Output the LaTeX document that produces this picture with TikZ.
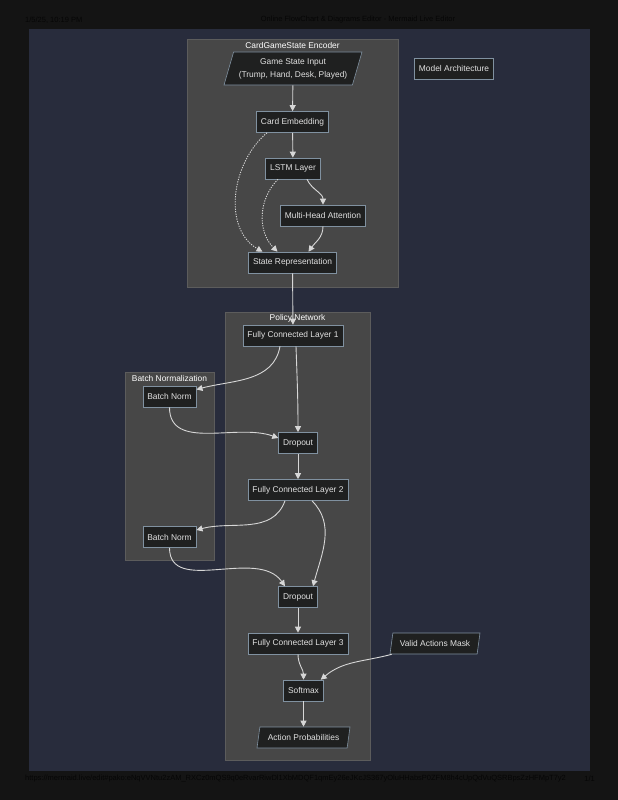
\documentclass[tikz,border=0pt]{standalone}
\usepackage{fontspec}
\setmainfont{Liberation Sans}
\usetikzlibrary{arrows.meta,shapes.geometric}
\definecolor{pagebg}{RGB}{20,20,20}
\definecolor{panelbg}{RGB}{40,44,60}
\definecolor{groupbg}{RGB}{71,71,71}
\definecolor{groupline}{RGB}{92,92,92}
\definecolor{nodebg}{RGB}{31,32,32}
\definecolor{nodeline}{RGB}{128,145,160}
\definecolor{edgecol}{RGB}{215,215,215}
\definecolor{textcol}{RGB}{225,225,225}
\definecolor{printcol}{RGB}{6,6,6}

\begin{document}
\begin{tikzpicture}[x=1pt,y=-1pt,
        box/.style={draw=nodeline,fill=nodebg,text=textcol,line width=0.6pt,inner xsep=4.5pt,inner ysep=0pt,minimum height=21pt,font=\fontsize{8.4}{13}\selectfont},
        slant/.style={box,trapezium,trapezium left angle=65,trapezium right angle=115,trapezium stretches body,align=center},
        group/.style={draw=groupline,fill=groupbg,line width=0.6pt},
        grouptitle/.style={text=white,inner sep=0pt,font=\fontsize{8.4}{10}\selectfont},
        print/.style={text=printcol,inner sep=0pt,font=\fontsize{7.5}{9}\selectfont},
        edge/.style={draw=edgecol,line width=0.9pt,-{Triangle[length=6pt,width=6pt]}},
        skip/.style={edge,dash pattern=on 1.2pt off 1.3pt}]
        \useasboundingbox (0,0) rectangle (618,800);
        \fill[pagebg] (0,0) rectangle (618,800);
        \fill[panelbg] (29,29) rectangle (590,771);
        \node[print,anchor=west] (stamp) at (25,20) {1/5/25, 10:19 PM};
        \node[print] (title) at (358,20) {Online FlowChart \& Diagrams Editor - Mermaid Live Editor};
        \node[print,anchor=west] (url) at (25,779) {https://mermaid.live/edit\#pako:eNqVVNtu2zAM\_RXCz0mQS9q0eRvarRiwDl1XbMDQF1qmEy26eJKcJS367yOluHHabsP0ZFM8h4cUpQdVuQSRBpsZzHFMpT7y2};
        \node[print,anchor=east] (pageno) at (595,779) {1/1};

        \draw[group] (187,39) rectangle (398,287);
        \draw[group] (225,312) rectangle (370,760);
        \draw[group] (125,372) rectangle (214,560);
        \node[grouptitle] (enctitle) at (292.5,45) {CardGameState Encoder};
        \node[grouptitle] (poltitle) at (297.5,318) {Policy Network};
        \node[grouptitle] (bntitle) at (169.5,378.5) {Batch Normalization};

        \node[slant,minimum width=138pt,minimum height=33pt] (gsi) at (293,68.5) {Game State Input\\(Trump, Hand, Desk, Played)};
        \node[box] (emb) at (292.5,122) {Card Embedding};
        \node[box] (lstm) at (293,168.5) {LSTM Layer};
        \node[box] (mha) at (323,215.5) {Multi-Head Attention};
        \node[box] (state) at (292.5,262.5) {State Representation};
        \node[box] (model) at (454,68.5) {Model Architecture};
        \node[box] (fc1) at (293,335.5) {Fully Connected Layer 1};
        \node[box] (bn1) at (169.5,396.5) {Batch Norm};
        \node[box] (drop1) at (298,443) {Dropout};
        \node[box] (fc2) at (298,490) {Fully Connected Layer 2};
        \node[box] (bn2) at (169.5,537) {Batch Norm};
        \node[box] (drop2) at (298,597) {Dropout};
        \node[box] (fc3) at (298,643.5) {Fully Connected Layer 3};
        \node[slant,minimum width=90pt] (mask) at (435,643.5) {Valid Actions Mask};
        \node[box] (soft) at (303.5,690.5) {Softmax};
        \node[slant,minimum width=93pt] (probs) at (303.5,737.5) {Action Probabilities};

        \draw[edge] (gsi) -- (emb);
        \draw[edge] (emb) -- (lstm);
        \draw[edge] ([xshift=14pt]lstm.south) to[out=-65,in=90] (mha.north);
        \draw[edge] (mha.south) to[out=-90,in=55] ([xshift=16pt]state.north);
        \draw[skip] ([xshift=-25.5pt]emb.south) to[out=220,in=150] ([xshift=-30pt]state.north);
        \draw[skip] ([xshift=-15pt]lstm.south) to[out=225,in=135] ([xshift=-15pt]state.north);
        \draw[edge] (state) -- (fc1);
        \draw[edge] ([xshift=-13pt]fc1.south) to[out=-100,in=15] ([yshift=7pt]bn1.east);
        \draw[edge] ([xshift=3pt]fc1.south) to[out=-88,in=90] (drop1.north);
        \draw[edge] (bn1.south) to[out=-90,in=160] ([yshift=5pt]drop1.west);
        \draw[edge] (drop1) -- (fc2);
        \draw[edge] ([xshift=-13pt]fc2.south) to[out=-110,in=15] ([yshift=7pt]bn2.east);
        \draw[edge] ([xshift=14pt]fc2.south) to[out=-45,in=75] ([xshift=15pt]drop2.north);
        \draw[edge] (bn2.south) to[out=-90,in=125] ([xshift=-13pt]drop2.north);
        \draw[edge] (drop2) -- (fc3);
        \draw[edge] (fc3.south) to[out=-90,in=90] (soft.north);
        \draw[edge] ([xshift=2pt]mask.bottom left corner) to[out=195,in=40] ([xshift=-3pt]soft.north east);
        \draw[edge] (soft) -- (probs);
    \end{tikzpicture}
\end{document}
